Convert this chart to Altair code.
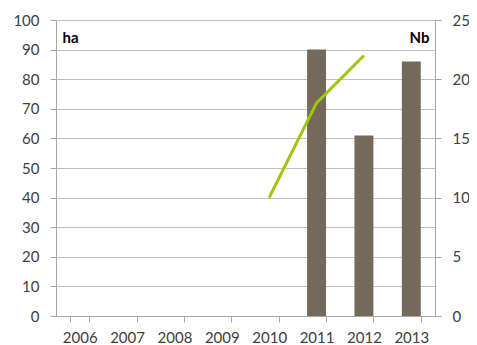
import altair as alt
import pandas as pd

years = ["2006", "2007", "2008", "2009", "2010", "2011", "2012", "2013"]
ha = [None, None, None, None, None, 90, 61, 86]
nb = [None, None, None, None, 10, 18, 22, None]

df = pd.DataFrame({"year": years, "ha": ha, "nb": nb})

FONT = "Lato"
GRAY = "#a6a6a6"
TXT = "#404040"

x = alt.X("year:N", sort=years, scale=alt.Scale(paddingInner=0.6, paddingOuter=0.3),
          axis=alt.Axis(title=None, labelAngle=0, tickBand="extent", grid=False,
                        domainColor=GRAY, tickColor=GRAY, tickSize=6, labelPadding=8,
                        labelFontSize=15, labelFont=FONT, labelColor=TXT))

bars = alt.Chart(df).mark_bar(color="#74695A").encode(
    x=x,
    y=alt.Y("ha:Q", scale=alt.Scale(domain=[0, 100], nice=False),
            axis=alt.Axis(values=list(range(0, 101, 10)), grid=True, gridColor="#bfbfbf",
                          domainColor=GRAY, tickColor=GRAY, tickSize=6, labelPadding=11,
                          labelFontSize=15, labelFont=FONT, labelColor=TXT,
                          title="ha", titleAngle=0, titleX=6, titleY=10,
                          titleAlign="left", titleBaseline="top",
                          titleFont=FONT, titleFontSize=15, titleFontWeight="bold",
                          titleColor="#000000")),
)

line = alt.Chart(df).mark_line(color="#9CC80A", strokeWidth=3).encode(
    x=alt.X("year:N", sort=years),
    y=alt.Y("nb:Q", scale=alt.Scale(domain=[0, 25], nice=False),
            axis=alt.Axis(orient="right", values=list(range(0, 26, 5)), grid=False,
                          domain=True, domainColor=GRAY, tickColor=GRAY, tickSize=6,
                          labelPadding=11,
                          labelFontSize=15, labelFont=FONT, labelColor=TXT,
                          title="Nb", titleAngle=0, titleX=-6, titleY=10,
                          titleAlign="right", titleBaseline="top",
                          titleFont=FONT, titleFontSize=15, titleFontWeight="bold",
                          titleColor="#000000")),
)

chart = alt.layer(bars, line).resolve_scale(y="independent").properties(
    width=379, height=296,
    autosize=alt.AutoSizeParams(type="none"),
    padding={"left": 48, "top": 12, "right": 34, "bottom": 34},
).configure_view(stroke=None)

chart.save("out.html", embed_options={"renderer": "svg", "actions": False})
